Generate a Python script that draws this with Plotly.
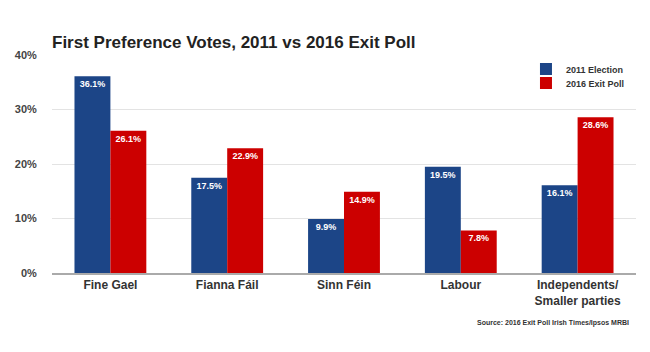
import plotly.graph_objects as go

categories = ["Fine Gael", "Fianna Fáil", "Sinn Féin", "Labour", "Independents/<br>Smaller parties"]
election_2011 = [36.1, 17.5, 9.9, 19.5, 16.1]
exit_poll_2016 = [26.1, 22.9, 14.9, 7.8, 28.6]
y_ticks = [0, 10, 20, 30, 40]
y_tick_labels = ["0%", "10%", "20%", "30%", "40%"]

FONT = "Arial, Liberation Sans, sans-serif"
BLUE = "#1c4587"
RED = "#cc0000"

fig = go.Figure()
for name, vals, col, lg in [("2011 Election", election_2011, BLUE, "legend"),
                            ("2016 Exit Poll", exit_poll_2016, RED, "legend2")]:
    fig.add_trace(go.Bar(
        x=categories, y=vals, name=name, legend=lg,
        marker=dict(color=col, line=dict(width=0)),
        text=[f"{v:.1f}%" for v in vals],
        textposition="inside", insidetextanchor="end",
        textfont=dict(family=FONT, size=9, color="white", weight="bold"),
        textangle=0,
        cliponaxis=False,
    ))

legend_common = dict(x=0.8116, xanchor="left", yanchor="top",
                     font=dict(family=FONT, size=9, color="#333333", weight="bold"),
                     bgcolor="rgba(0,0,0,0)", itemwidth=30)

fig.update_layout(
    width=650, height=352,
    margin=dict(l=52, r=14, t=55, b=79),
    paper_bgcolor="white", plot_bgcolor="white",
    barmode="group", bargap=0.385, bargroupgap=0,
    uniformtext=dict(minsize=9, mode="show"),
    title=dict(text="<b>First Preference Votes, 2011 vs 2016 Exit Poll</b>",
               x=52/650, xanchor="left", y=1-42/352, yanchor="middle",
               font=dict(family=FONT, size=17, color="#222222")),
    legend=dict(y=1.002, **legend_common),
    legend2=dict(y=0.938, **legend_common),
    showlegend=True,
    xaxis=dict(tickfont=dict(family=FONT, size=12, color="#333333", weight="bold"),
               showline=True, linecolor="#aaaaaa", linewidth=2, ticks="",
               showgrid=False, zeroline=False),
    yaxis=dict(range=[0, 40], tickvals=y_ticks, ticktext=y_tick_labels,
               tickfont=dict(family=FONT, size=11, color="#444444", weight="bold"),
               showgrid=True, gridcolor="#e3e3e3", gridwidth=1,
               zeroline=False, showline=False, ticks="outside", ticklen=12, tickcolor="white"),
    annotations=[dict(text="<b>Source: 2016 Exit Poll Irish Times/Ipsos MRBI</b>",
                      xref="paper", yref="paper", x=1-5/584, xanchor="right",
                      y=-(323-273)/218, yanchor="middle", showarrow=False,
                      font=dict(family=FONT, size=7, color="#333333"))],
)

fig.write_html("out.html")
